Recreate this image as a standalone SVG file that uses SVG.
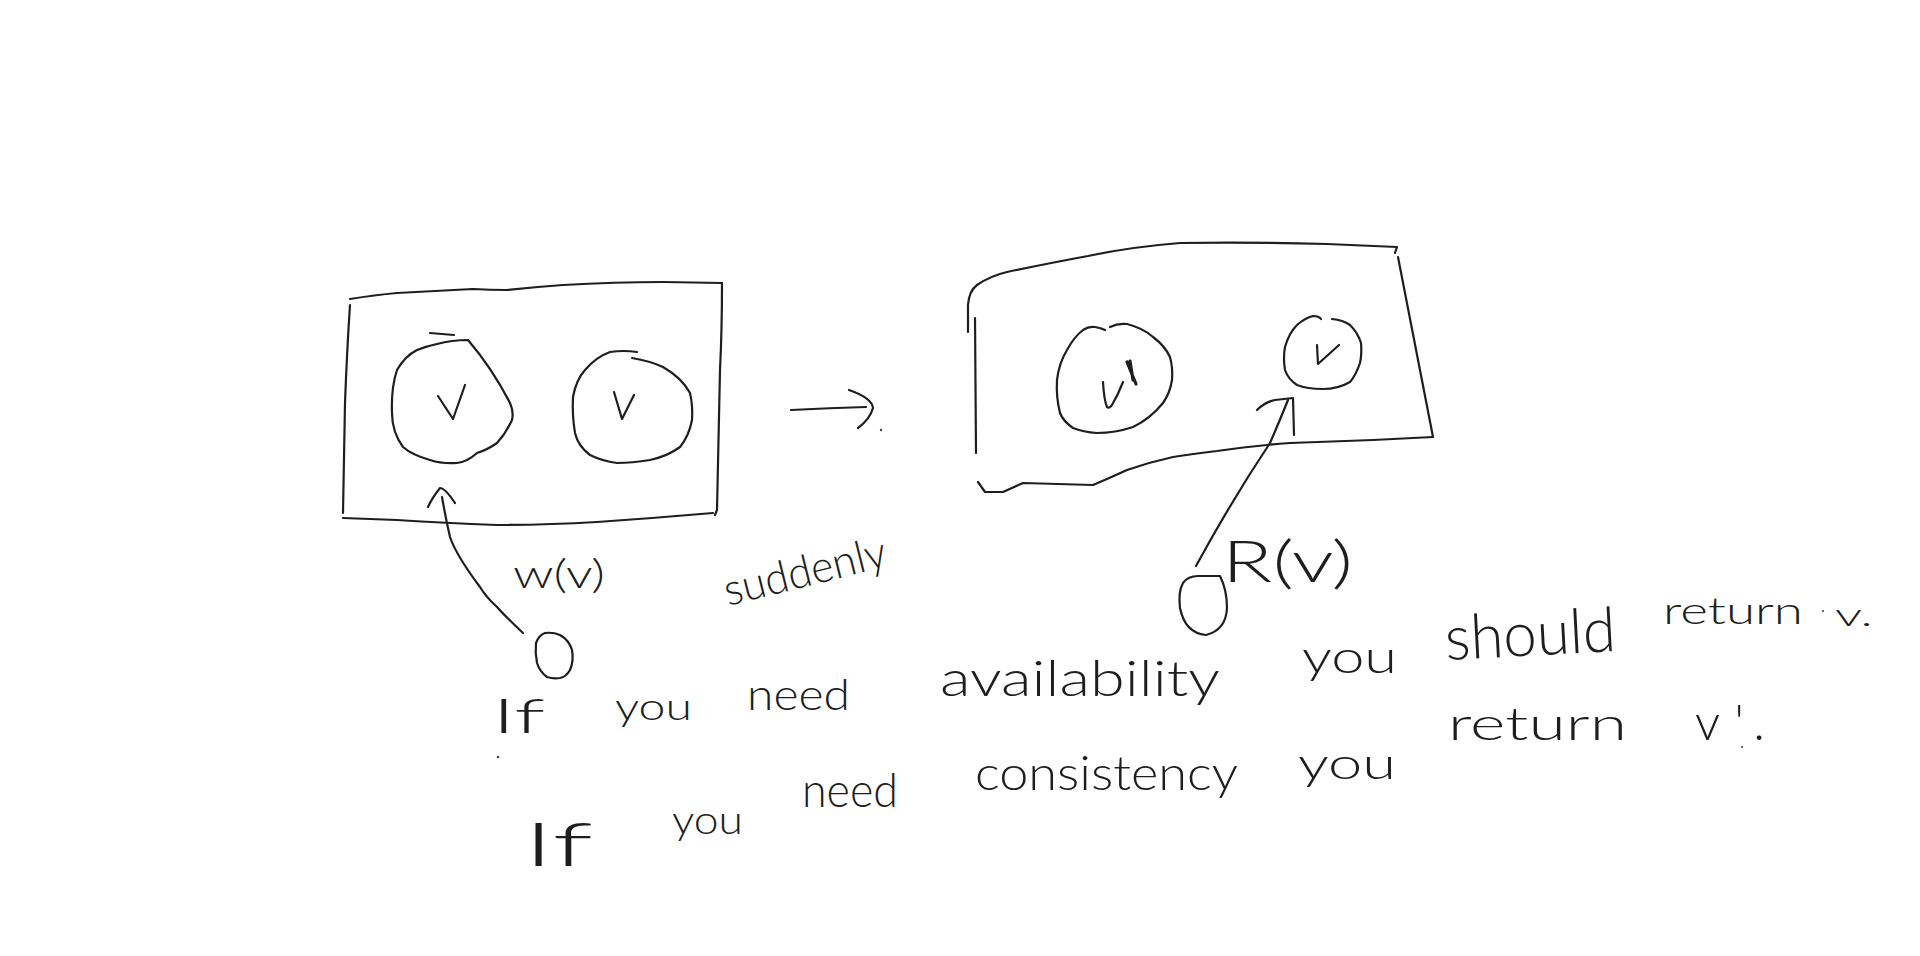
<svg xmlns="http://www.w3.org/2000/svg" width="1920" height="956" viewBox="0 0 1920 956">
<style>
.s{fill:none;stroke:#1e1e1e;stroke-width:2.2;stroke-linecap:round;stroke-linejoin:round}
.t{font-family:Lato,"Liberation Sans",sans-serif;font-weight:300;fill:#1e1e1e}
.dot{fill:#444}
</style>
<rect width="1920" height="956" fill="#ffffff"/>

<g id="cluster-before">
  <path class="s" d="M350,299 Q375,295 397,293 L473,289 Q490,290 507,290 Q535,287 563,285 Q615,282 663,282 L722,283"/>
  <path class="s" d="M722,283 Q722,330 720,370 L717,510 L715,515"/>
  <path class="s" d="M713,513 Q655,518 597,522 Q545,525 497,525 Q445,523 397,520 L343,518"/>
  <path class="s" d="M350,305 Q347,350 345,403 L343,513"/>
</g>

<g id="node-replica1-before">
  <path class="s" d="M437,344 Q452,340 468,340 Q492,368 510,403 Q514,412 512,420 Q506,433 497,443 Q487,450 477,453 Q467,462 457,463 Q442,464 430,460 Q412,455 403,447 Q392,432 392,413 Q391,388 397,370 Q405,356 417,350 Q427,346 437,344"/>
  <path class="s" d="M430,333 L454,335"/>
  <path class="s" d="M438,396 L453,419 L465,385"/>
</g>

<g id="node-replica2-before">
  <path class="s" d="M632,358 Q650,361 663,367 Q682,378 690,393 Q693,406 692,420 Q689,436 680,447 Q668,456 650,460 Q632,463 617,463 Q602,461 590,455 Q578,446 575,433 Q572,415 573,397 Q576,380 585,370 Q596,357 610,352 Q624,350 637,352"/>
  <path class="s" d="M614,392 L622,419 L634,395"/>
</g>

<g id="cluster-after">
  <path class="s" d="M968,332 L968,305 Q969,291 977,285 Q990,276 1007,272 Q1050,263 1088,256 Q1130,247 1180,243 Q1250,242 1327,244 L1397,247 L1395,253"/>
  <path class="s" d="M1398,257 L1433,437"/>
  <path class="s" d="M1433,437 L1373,440 L1290,443 Q1250,446 1217,451 Q1192,454 1173,457 Q1150,462 1127,470 Q1105,480 1093,485 Q1058,484 1023,483 L1003,492 L985,492 L978,482"/>
  <path class="s" d="M975,318 L976,453"/>
</g>

<g id="node-replica1-after">
  <path class="s" d="M1110,327 Q1118,323 1127,324 Q1143,328 1153,337 Q1165,346 1170,357 Q1173,368 1172,380 Q1170,393 1163,403 Q1150,419 1133,427 Q1115,433 1097,433 Q1083,432 1073,428 Q1063,421 1060,413 Q1056,397 1057,380 Q1059,363 1067,350 Q1074,337 1083,330 Q1089,326 1095,327 Q1101,328 1105,330"/>
  <path class="s" d="M1103,382 Q1104,400 1107,407 Q1109,409 1112,405 Q1118,395 1123,382"/>
  <path class="s" style="stroke-width:3.2" d="M1127,362 L1136,384 M1130,361 L1133,380"/>
</g>

<g id="node-replica2-after">
  <path class="s" d="M1332,319 Q1343,320 1350,325 Q1358,333 1361,343 Q1362,354 1360,363 Q1356,375 1350,382 Q1338,389 1323,389 Q1307,389 1297,385 Q1288,379 1285,370 Q1283,358 1285,347 Q1289,333 1297,325 Q1305,318 1313,316 Q1319,316 1321,319"/>
  <path class="s" d="M1317,345 L1318,364 L1339,345"/>
</g>

<g id="client-writer">
  <path class="s" d="M545,633 Q553,632 560,635 Q569,640 572,650 Q574,661 570,670 Q566,677 560,678 Q553,679 547,677 Q540,672 537,663 Q535,653 536,643 Q539,635 545,633"/>
</g>

<g id="client-reader">
  <path class="s" d="M1183,583 Q1188,576 1198,576 L1220,576 Q1227,590 1227,608 Q1226,630 1206,635 Q1185,633 1180,608 Q1178,592 1183,583"/>
</g>

<g id="connectors">
  <path class="s" d="M523,633 Q503,614 497,607 Q486,597 480,587 Q456,555 450,537 Q446,520 442,497"/>
  <path class="s" d="M428,507 Q432,498 440,488 Q445,488 455,503"/>
  <path class="s" d="M791,410 Q830,408 866,407"/>
  <path class="s" d="M849,390 Q872,398 873,408 Q870,419 858,428"/>
  <path class="s" d="M1196,566 Q1232,500 1270,443 Q1280,420 1288,400"/>
  <path class="s" d="M1257,410 Q1265,402 1275,400 L1293,398 L1294,435"/>
</g>

<g id="labels">
  <text class="t" x="513" y="588" font-size="40" textLength="92" lengthAdjust="spacingAndGlyphs">w(v)</text>
  <text class="t" x="728" y="606" font-size="44" textLength="166" lengthAdjust="spacingAndGlyphs" transform="rotate(-14 728 606)">suddenly</text>
  <text class="t" x="1222" y="582" font-size="58" textLength="131" lengthAdjust="spacingAndGlyphs">R(v)</text>
</g>

<g id="note-line1">
  <text class="t" x="492" y="733" font-size="48" textLength="53" lengthAdjust="spacingAndGlyphs">If</text>
  <text class="t" x="615" y="720" font-size="38" textLength="77" lengthAdjust="spacingAndGlyphs">you</text>
  <text class="t" x="747" y="710" font-size="44" textLength="103" lengthAdjust="spacingAndGlyphs">need</text>
  <text class="t" x="940" y="696" font-size="50" textLength="280" lengthAdjust="spacingAndGlyphs">availability</text>
  <text class="t" x="1302" y="673" font-size="46" textLength="95" lengthAdjust="spacingAndGlyphs">you</text>
  <text class="t" x="1446" y="660" font-size="62" textLength="171" lengthAdjust="spacingAndGlyphs" transform="rotate(-3 1446 660)">should</text>
  <text class="t" x="1663" y="624" font-size="38" textLength="140" lengthAdjust="spacingAndGlyphs">return</text>
  <text class="t" x="1835" y="626" font-size="32" textLength="38" lengthAdjust="spacingAndGlyphs">v.</text>
</g>

<g id="note-line2">
  <text class="t" x="523" y="866" font-size="62" textLength="70" lengthAdjust="spacingAndGlyphs">If</text>
  <text class="t" x="672" y="834" font-size="40" textLength="71" lengthAdjust="spacingAndGlyphs">you</text>
  <text class="t" x="802" y="807" font-size="48" textLength="96" lengthAdjust="spacingAndGlyphs">need</text>
  <text class="t" x="975" y="790" font-size="48" textLength="263" lengthAdjust="spacingAndGlyphs">consistency</text>
  <text class="t" x="1298" y="779" font-size="44" textLength="98" lengthAdjust="spacingAndGlyphs">you</text>
  <text class="t" x="1448" y="740" font-size="46" textLength="179" lengthAdjust="spacingAndGlyphs">return</text>
  <text class="t" x="1695" y="740" font-size="50" textLength="70" lengthAdjust="spacing">v'.</text>
</g>

<g id="stray-dots">
  <circle class="dot" cx="498" cy="757" r="1.3"/>
  <circle class="dot" cx="881" cy="430" r="1.2"/>
  <circle class="dot" cx="1823" cy="611" r="1.1"/>
  <circle class="dot" cx="1742" cy="747" r="1.1"/>
</g>
</svg>
